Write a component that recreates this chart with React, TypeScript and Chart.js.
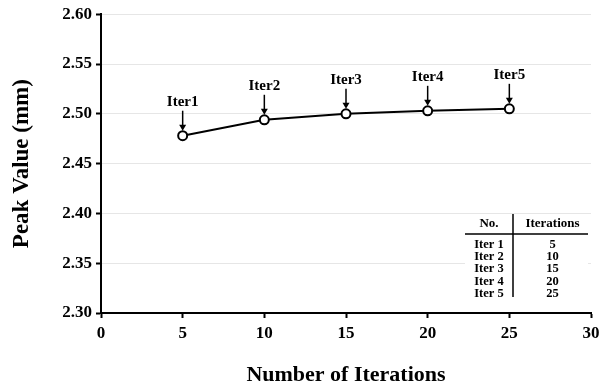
import React, { useEffect, useRef } from "react";
import { Chart, registerables } from "chart.js";

Chart.register(...registerables);

const iterations = [5, 10, 15, 20, 25];
const peakValues = [2.478, 2.494, 2.5, 2.503, 2.505];
const pointLabels = ["Iter1", "Iter2", "Iter3", "Iter4", "Iter5"];
const tableNo = ["Iter 1", "Iter 2", "Iter 3", "Iter 4", "Iter 5"];
const tableIter = ["5", "10", "15", "20", "25"];
const tableHeader = ["No.", "Iterations"];
const xTitle = "Number of Iterations";
const yTitle = "Peak Value (mm)";

const FONT = "'Liberation Serif', 'Times New Roman', serif";

const annotatePlugin = {
  id: "annotate",
  afterDatasetsDraw(chart: any) {
    const ctx = chart.ctx;
    const meta = chart.getDatasetMeta(0);
    ctx.save();
    ctx.fillStyle = "#000";
    ctx.strokeStyle = "#000";
    ctx.font = `bold 15px ${FONT}`;
    ctx.textAlign = "center";
    ctx.textBaseline = "middle";
    meta.data.forEach((pt: any, i: number) => {
      const x = pt.x;
      const y = pt.y;
      ctx.fillText(pointLabels[i], x, y - 34);
      ctx.lineWidth = 1.5;
      ctx.beginPath();
      ctx.moveTo(x, y - 25);
      ctx.lineTo(x, y - 10);
      ctx.stroke();
      ctx.beginPath();
      ctx.moveTo(x - 3.5, y - 11);
      ctx.lineTo(x + 3.5, y - 11);
      ctx.lineTo(x, y - 5);
      ctx.closePath();
      ctx.fill();
    });

    // table
    const area = chart.chartArea;
    const left = area.right - 126;
    const right = area.right - 3;
    const top = area.bottom - 99;
    const bottom = area.bottom - 13;
    const divX = area.right - 78;
    ctx.fillStyle = "#fff";
    ctx.fillRect(left, top + 1, right - left, bottom - top);
    ctx.fillStyle = "#000";
    ctx.lineWidth = 1.5;
    ctx.beginPath();
    ctx.moveTo(divX, top);
    ctx.lineTo(divX, bottom - 3);
    ctx.moveTo(left, top + 20);
    ctx.lineTo(right, top + 20);
    ctx.stroke();
    ctx.font = `bold 13px ${FONT}`;
    ctx.textAlign = "center";
    ctx.fillText(tableHeader[0], (left + divX) / 2, top + 10);
    ctx.fillText(tableHeader[1], (divX + right) / 2 + 2, top + 10);
    ctx.font = `bold 12.5px ${FONT}`;
    tableNo.forEach((n, i) => {
      const ry = top + 30.5 + i * 12.3;
      ctx.fillText(n, (left + divX) / 2, ry);
      ctx.fillText(tableIter[i], (divX + right) / 2 + 2, ry);
    });
    ctx.restore();
  },
};

export default function App() {
  const canvasRef = useRef<HTMLCanvasElement | null>(null);
  useEffect(() => {
    if (!canvasRef.current) return;
    const chart = new Chart(canvasRef.current, {
      type: "scatter",
      data: {
        datasets: [
          {
            data: iterations.map((x, i) => ({ x, y: peakValues[i] })),
            showLine: true,
            borderColor: "#000",
            borderWidth: 2,
            pointRadius: 4.5,
            pointBorderWidth: 2,
            pointBackgroundColor: "#fff",
            pointBorderColor: "#000",
          },
        ],
      },
      options: {
        animation: false,
        responsive: false,
        layout: { padding: { top: 12, right: 22, left: 0, bottom: 0 } },
        plugins: { legend: { display: false }, tooltip: { enabled: false } },
        scales: {
          x: {
            type: "linear",
            min: 0,
            max: 30,
            afterFit(scale: any) {
              scale.height = 76;
            },
            ticks: {
              stepSize: 5,
              color: "#000",
              padding: 5,
              font: { family: FONT, size: 17, weight: "bold" },
            },
            grid: {
              drawOnChartArea: false,
              tickLength: 5,
              tickColor: "#000",
              tickWidth: 2,
            },
            border: { display: true, color: "#000", width: 2 },
            title: {
              display: true,
              text: xTitle,
              color: "#000",
              padding: { top: 0, bottom: 0 },
              font: { family: FONT, size: 22, weight: "bold" },
            },
          },
          y: {
            min: 2.3,
            max: 2.6,
            afterFit(scale: any) {
              scale.width = 101;
            },
            ticks: {
              stepSize: 0.05,
              color: "#000",
              padding: 4,
              callback: (v: any) => Number(v).toFixed(2),
              font: { family: FONT, size: 17, weight: "bold" },
            },
            grid: {
              color: "#e6e6e6",
              lineWidth: 1,
              tickLength: 5,
              tickColor: "#000",
              tickWidth: 2,
            },
            border: { display: true, color: "#000", width: 2 },
            title: {
              display: true,
              text: yTitle,
              color: "#000",
              padding: { top: 8, bottom: 0 },
              font: { family: FONT, size: 23, weight: "bold" },
            },
          },
        },
      },
      plugins: [annotatePlugin],
    } as any);
    return () => chart.destroy();
  }, []);
  return (
    <div style={{ position: "fixed", left: 0, top: 0, width: 613, height: 389, background: "#fff" }}>
      <canvas ref={canvasRef} width={613} height={389} style={{ width: 613, height: 389 }} />
    </div>
  );
}
